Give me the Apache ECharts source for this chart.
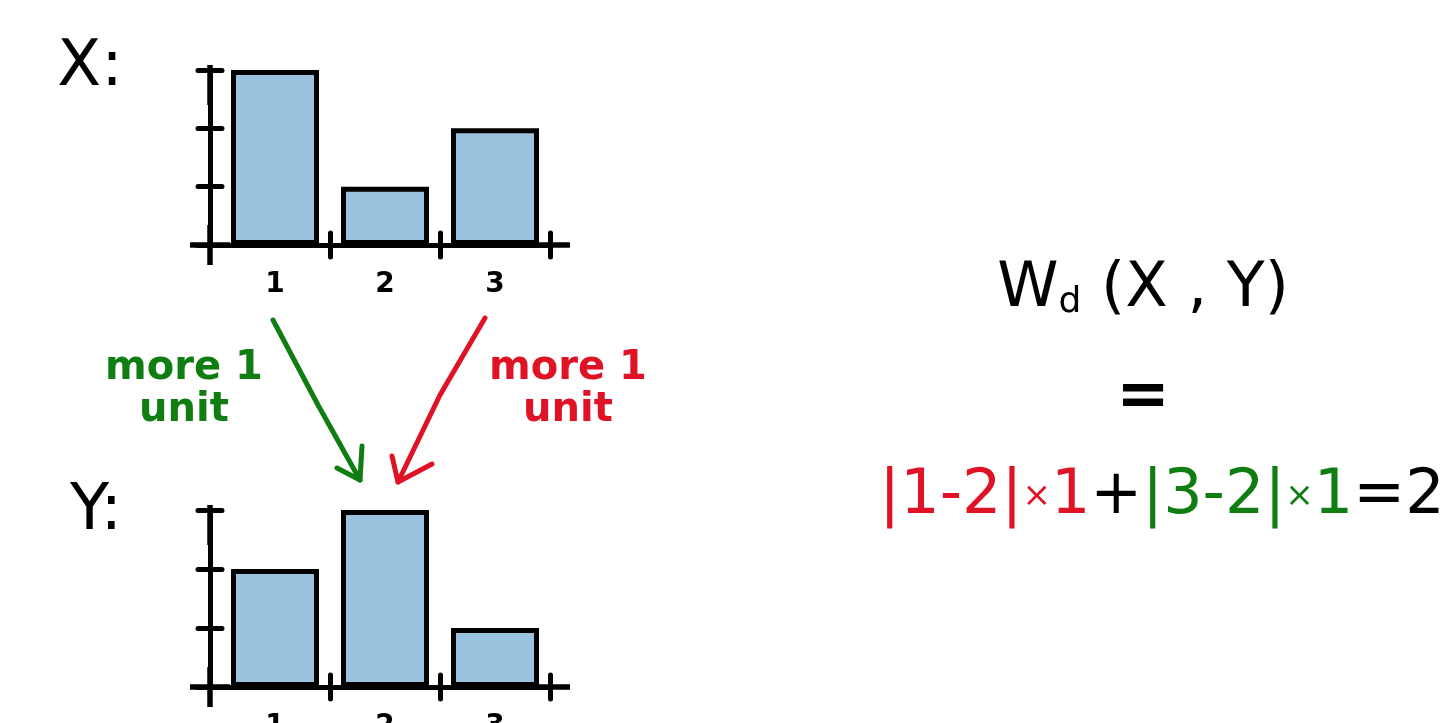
<!DOCTYPE html>
<html>
<head>
<meta charset="utf-8">
<script src="https://cdn.jsdelivr.net/npm/echarts@6/dist/echarts.min.js"></script>
<style>
  html, body { margin: 0; padding: 0; background: #fff; }
  #main { width: 1453px; height: 723px; }
</style>
</head>
<body>
<div id="main"></div>
<script>
// data
const categories = ['1', '2', '3'];
const xValues = [3, 1, 2];   // distribution X
const yValues = [2, 3, 1];   // distribution Y

const INK = '#000';
const BAR = '#9bc2df';
const GREEN = '#0f7d12';
const RED = '#e01226';
const FONT = 'DejaVu Sans';

const myChart = echarts.init(document.getElementById('main'));

// axis line extended past its ends like a hand sketch
function sketchLine(offsets) {
  return {
    show: true,
    lineStyle: { color: INK, width: 5, cap: 'round' },
    symbol: ['rect', 'rect'],
    symbolSize: [5, 40],
    symbolOffset: offsets,
  };
}

function makeX(gridIndex, withLabels, inside) {
  return {
    type: 'category',
    gridIndex: gridIndex,
    position: 'bottom',
    data: categories,
    boundaryGap: true,
    axisLine: sketchLine([-10, 0]),
    axisTick: {
      show: true,
      inside: inside,
      length: 12,
      interval: (i) => i !== 0,
      lineStyle: { color: INK, width: 5, cap: 'round' },
    },
    axisLabel: {
      show: withLabels,
      margin: 26,
      color: INK,
      fontFamily: FONT,
      fontWeight: 'bold',
      fontSize: 28,
    },
    splitLine: { show: false },
  };
}

function makeY(gridIndex, inside) {
  return {
    type: 'value',
    gridIndex: gridIndex,
    position: 'left',
    min: 0,
    max: 3,
    interval: 1,
    offset: 10,
    axisLine: sketchLine([0, -15]),
    axisTick: { show: true, inside: inside, length: 12, lineStyle: { color: INK, width: 5, cap: 'round' } },
    axisLabel: { show: false },
    splitLine: { show: false },
  };
}

function makeBars(axisIndex, values) {
  return {
    type: 'bar',
    xAxisIndex: axisIndex,
    yAxisIndex: axisIndex,
    data: values,
    barWidth: 88,
    itemStyle: { color: BAR, borderColor: INK, borderWidth: 5 },
    silent: true,
    z: 1,
  };
}

function arrow(points, head1, head2, color) {
  return [
    { type: 'polyline', shape: { points: points }, style: { stroke: color, lineWidth: 5, lineCap: 'round', lineJoin: 'round', fill: null } },
    { type: 'polyline', shape: { points: [head1, points[points.length - 1], head2] }, style: { stroke: color, lineWidth: 5, lineCap: 'round', lineJoin: 'round', fill: null } },
  ];
}

function label(x, y, text, size, color, weight) {
  return {
    type: 'text',
    x: x,
    y: y,
    style: {
      text: text,
      fill: color,
      font: (weight || 'bold') + ' ' + size + 'px "' + FONT + '"',
      align: 'center',
      verticalAlign: 'middle',
      lineHeight: size * 1.05,
    },
  };
}

const option = {
  backgroundColor: '#fff',
  animation: false,
  grid: [
    { left: 220, top: 70, width: 330, height: 175, outerBoundsMode: 'none' },
    { left: 220, top: 510, width: 330, height: 177, outerBoundsMode: 'none' },
  ],
  xAxis: [
    makeX(0, true, false), makeX(1, true, false),
    makeX(0, false, true), makeX(1, false, true),
  ],
  yAxis: [
    makeY(0, false), makeY(1, false),
    makeY(0, true), makeY(1, true),
  ],
  series: [makeBars(0, xValues), makeBars(1, yValues)],
  graphic: [
    label(90, 68, 'X:', 64, INK, 'normal'),
    label(96, 512, 'Y:', 64, INK, 'normal'),
    label(184, 390, 'more 1\nunit', 40, GREEN),
    label(568, 390, 'more 1\nunit', 40, RED),
    ...arrow([[273, 320], [318, 405], [360, 480]], [337, 468], [362, 446], GREEN),
    ...arrow([[485, 318], [440, 395], [398, 482]], [392, 456], [432, 464], RED),
    {
      type: 'text',
      x: 1143,
      y: 290,
      style: {
        text: '{w|W}{s|d}{w| (X , Y)}',
        align: 'center',
        verticalAlign: 'middle',
        rich: {
          w: { font: '62px "' + FONT + '"', fill: INK },
          s: { font: '36px "' + FONT + '"', fill: INK, verticalAlign: 'bottom', padding: [22, 0, 0, 0] },
        },
      },
    },
    label(1143, 398, '=', 64, INK),
    {
      type: 'text',
      x: 1162,
      y: 497,
      style: {
        text: '{r||1-2|}{rs|×}{r|1}{k|+}{g||3-2|}{gs|×}{g|1}{k|=2}',
        align: 'center',
        verticalAlign: 'middle',
        rich: {
          r: { font: '62px "' + FONT + '"', fill: RED },
          rs: { font: '34px "' + FONT + '"', fill: RED },
          g: { font: '62px "' + FONT + '"', fill: GREEN },
          gs: { font: '34px "' + FONT + '"', fill: GREEN },
          k: { font: '62px "' + FONT + '"', fill: INK },
        },
      },
    },
  ],
};

myChart.setOption(option);
window.addEventListener('resize', () => myChart.resize());
</script>
</body>
</html>
